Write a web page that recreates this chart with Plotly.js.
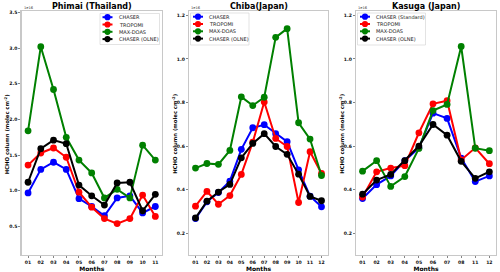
<!DOCTYPE html>
<html><head><meta charset="utf-8">
<script src="https://cdn.plot.ly/plotly-3.0.1.min.js"></script>
<style>html,body{margin:0;padding:0;background:#fff}#chart{width:500px;height:272px}</style>
</head><body><div id="chart"></div>
<script>
// ---- data ----
const phimaiMonths = ['01','02','03','04','05','06','07','08','09','10','11'];
const phimaiChaser = [0.97,1.30,1.40,1.30,0.89,0.78,0.65,0.90,0.93,0.69,0.78];
const phimaiTropomi = [1.36,1.53,1.60,1.47,0.98,0.77,0.61,0.54,0.61,0.94,0.64];
const phimaiMaxdoas = [1.84,3.02,2.42,1.75,1.43,1.25,0.90,1.02,0.90,1.64,1.43];
const phimaiOlne = [1.12,1.59,1.71,1.66,1.08,0.93,0.80,1.11,1.12,0.72,0.95];

const chibaMonths = ['01','02','03','04','05','06','07','08','09','10','11','12'];
const chibaChaser = [0.267,0.344,0.387,0.439,0.585,0.684,0.698,0.657,0.620,0.491,0.370,0.321];
const chibaTropomi = [0.324,0.392,0.333,0.373,0.470,0.618,0.802,0.635,0.598,0.341,0.574,0.474];
const chibaMaxdoas = [0.499,0.520,0.516,0.580,0.826,0.786,0.824,1.099,1.139,0.707,0.632,0.465];
const chibaOlne = [0.270,0.347,0.389,0.424,0.546,0.612,0.657,0.598,0.562,0.471,0.369,0.349];

const kasugaMonths = ['01','02','03','04','05','06','07','08','11','12'];
const kasugaChaser = [0.359,0.423,0.463,0.533,0.592,0.751,0.727,0.545,0.437,0.463];
const kasugaTropomi = [0.366,0.482,0.499,0.510,0.661,0.794,0.808,0.536,0.592,0.519];
const kasugaMaxdoas = [0.485,0.533,0.415,0.460,0.589,0.763,0.791,1.057,0.590,0.579];
const kasugaOlne = [0.379,0.444,0.470,0.533,0.600,0.699,0.650,0.530,0.452,0.482];

const seriesColors = ['#0000ff','#ff0000','#008000','#000000'];
const phimaiNames = ['CHASER','TROPOMI','MAX-DOAS','CHASER (OLNE)'];
const chibaNames = ['CHASER','TROPOMI','MAX-DOAS','CHASER (OLNE)'];
const kasugaNames = ['CHASER (Standard)','TROPOMI','MAX-DOAS','CHASER (OLNE)'];
const titles = ['Phimai (Thailand)','Chiba(Japan)','Kasuga (Japan)'];
const phimaiYTicks = [0.5,1.0,1.5,2.0,2.5,3.0,3.5];
const japanYTicks = [0.2,0.4,0.6,0.8,1.0,1.2];

// ---- layout helpers ----
const W=500,H=272;
const px=x=>x/W, py=y=>1-y/H;
const FONT='DejaVu Sans';
const panels=[
  {months:phimaiMonths, series:[phimaiChaser,phimaiTropomi,phimaiMaxdoas,phimaiOlne], names:phimaiNames,
   x0:21.7,x1:161.7, yr:[0.1,3.52], yt:phimaiYTicks, fmt:'.1f',
   leg:{bx0:100,bx1:159.5,by0:13.5,by1:44.5,lx0:102.5,lx1:112.5,tx:116.5}},
  {months:chibaMonths, series:[chibaChaser,chibaTropomi,chibaMaxdoas,chibaOlne], names:chibaNames,
   x0:189.2,x1:327.8, yr:[0.1,1.22], yt:japanYTicks, fmt:'.1f',
   leg:{bx0:190.5,bx1:249,by0:13,by1:45,lx0:193,lx1:203,tx:207}},
  {months:kasugaMonths, series:[kasugaChaser,kasugaTropomi,kasugaMaxdoas,kasugaOlne], names:kasugaNames,
   x0:356.2,x1:495.7, yr:[0.1,1.22], yt:japanYTicks, fmt:'.1f',
   leg:{bx0:357.5,bx1:425.5,by0:13,by1:45,lx0:360,lx1:370,tx:374}}
];
const yTop=11, yBot=255;
const traces=[], shapes=[], annotations=[];
const layout={width:W,height:H,margin:{l:0,r:0,t:0,b:0},paper_bgcolor:'#fff',plot_bgcolor:'#fff',
  showlegend:false,font:{family:FONT,color:'#000'}};

panels.forEach((p,i)=>{
  const n=i+1, xa='xaxis'+(n===1?'':n), ya='yaxis'+(n===1?'':n);
  const xr='x'+(n===1?'':n), yrf='y'+(n===1?'':n);
  const pad=(p.months.length-1)*0.05;
  layout[xa]={domain:[px(p.x0),px(p.x1)],anchor:yrf,type:'category',range:[-pad,p.months.length-1+pad],
    showline:true,mirror:true,linecolor:'#c8c8c8',linewidth:1.3,showgrid:false,zeroline:false,
    ticks:'outside',ticklen:2,tickwidth:0.6,tickcolor:'#333',
    tickfont:{size:4.6,family:FONT,weight:'bold',color:'#111'},
    title:{text:'Months',font:{size:6,family:FONT,weight:'bold'},standoff:0}};
  layout[ya]={domain:[py(yBot),py(yTop)],anchor:xr,range:p.yr,tickvals:p.yt,tickformat:p.fmt,
    showline:true,mirror:true,linecolor:'#c8c8c8',linewidth:1.3,showgrid:false,zeroline:false,
    ticks:'outside',ticklen:2,tickwidth:0.6,tickcolor:'#333',
    tickfont:{size:4.6,family:FONT,weight:'bold',color:'#111'}};
  annotations.push({xref:'paper',yref:'paper',x:px(p.x0-14.5),y:py(134),text:'HCHO column (molec cm<sup>-2</sup>)',
    textangle:-90,showarrow:false,font:{size:5.3,family:FONT,weight:'bold'},xanchor:'center',yanchor:'middle'});
  annotations.push({xref:'paper',yref:'paper',x:px(p.x0),y:py(8.3),text:'1e16',showarrow:false,
    font:{size:3.6,family:FONT,color:'#333'},xanchor:'left',yanchor:'middle'});
  annotations.push({xref:'paper',yref:'paper',x:px((p.x0+p.x1)/2),y:py(6.3),text:titles[i],showarrow:false,
    font:{size:8,family:FONT,weight:'bold'},xanchor:'center',yanchor:'middle'});
  p.series.forEach((s,k)=>{
    traces.push({type:'scatter',mode:'lines+markers',x:p.months,y:s,xaxis:xr,yaxis:yrf,name:p.names[k],
      line:{color:seriesColors[k],width:2},marker:{color:seriesColors[k],size:6.8}});
  });
  // legend
  const L=p.leg;
  shapes.push({type:'rect',xref:'paper',yref:'paper',x0:px(L.bx0),x1:px(L.bx1),y0:py(L.by1),y1:py(L.by0),
    line:{color:'#d0d0d0',width:0.6},fillcolor:'rgba(255,255,255,0.85)',layer:'above'});
  p.names.forEach((nm,k)=>{
    const yy=L.by0+3.7+k*7.3;
    shapes.push({type:'line',xref:'paper',yref:'paper',x0:px(L.lx0),x1:px(L.lx1),y0:py(yy),y1:py(yy),
      line:{color:seriesColors[k],width:2},layer:'above'});
    const cx=(L.lx0+L.lx1)/2, r=3.1;
    shapes.push({type:'circle',xref:'paper',yref:'paper',x0:px(cx-r),x1:px(cx+r),y0:py(yy+r),y1:py(yy-r),
      line:{width:0},fillcolor:seriesColors[k],layer:'above'});
    annotations.push({xref:'paper',yref:'paper',x:px(L.tx),y:py(yy),text:nm,showarrow:false,
      font:{size:5,family:FONT,color:'#222'},xanchor:'left',yanchor:'middle'});
  });
});
layout.shapes=shapes; layout.annotations=annotations;
Plotly.newPlot('chart',traces,layout,{displayModeBar:false,staticPlot:true});
</script></body></html>
